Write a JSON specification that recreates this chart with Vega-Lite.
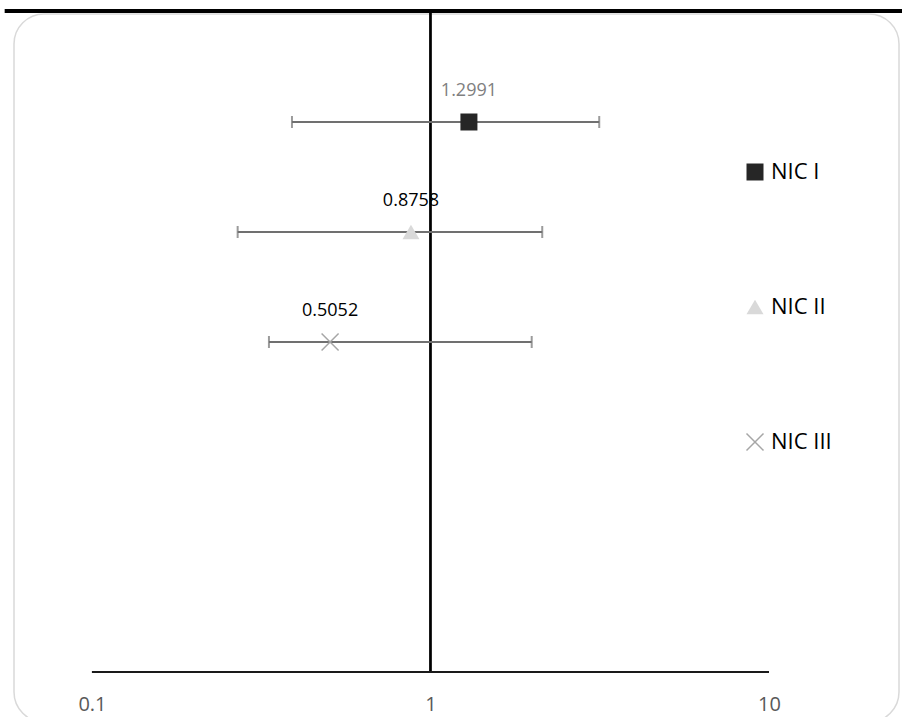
{
  "$schema": "https://vega.github.io/schema/vega-lite/v6.json",
  "width": 885,
  "height": 708,
  "autosize": {"type": "none"},
  "padding": {"left": 14, "top": 14, "right": 3, "bottom": 0},
  "background": "white",
  "config": {
    "view": {"stroke": "#d9d9d9", "strokeWidth": 1.5, "cornerRadius": 30},
    "font": "Open Sans"
  },
  "data": {
    "values": [
      {"series": "NIC I", "est": 1.2991, "lo": 0.3898, "hi": 3.152, "pos": 5, "label": "1.2991"},
      {"series": "NIC II", "est": 0.8758, "lo": 0.2694, "hi": 2.139, "pos": 4, "label": "0.8758"},
      {"series": "NIC III", "est": 0.5052, "lo": 0.3333, "hi": 1.991, "pos": 3, "label": "0.5052"}
    ]
  },
  "encoding": {
    "y": {
      "field": "pos", "type": "quantitative",
      "scale": {"domain": [-0.454545, 5.981818], "nice": false, "zero": false},
      "axis": null
    }
  },
  "layer": [
    {
      "mark": {"type": "rule", "color": "#000000", "strokeWidth": 4},
      "encoding": {
        "x": {"datum": 0.0553, "type": "quantitative"},
        "x2": {"datum": 30},
        "y": {"datum": 6.009, "type": "quantitative"}
      }
    },
    {
      "mark": {"type": "rule", "color": "#000000", "strokeWidth": 2},
      "encoding": {
        "x": {"datum": 1, "type": "quantitative"},
        "y": {"datum": 0, "type": "quantitative"},
        "y2": {"datum": 6.0}
      }
    },
    {
      "mark": {"type": "rule", "color": "#1a1a1a", "strokeWidth": 2},
      "encoding": {
        "x": {"datum": 0.1, "type": "quantitative"},
        "x2": {"datum": 10},
        "y": {"datum": 0, "type": "quantitative"}
      }
    },
    {
      "mark": {"type": "rule", "color": "#707070", "strokeWidth": 2},
      "encoding": {
        "x": {
          "field": "lo", "type": "quantitative",
          "scale": {"type": "log", "domain": [0.05884, 24.22], "nice": false, "zero": false},
          "axis": {
            "orient": "bottom", "offset": -50, "values": [0.1, 1, 10], "format": "~g",
            "domain": false, "ticks": false, "grid": false, "title": null,
            "labelFont": "Open Sans", "labelFontSize": 20, "labelColor": "#595959",
            "labelPadding": 22, "labelBaseline": "top", "labelFlush": false, "labelOverlap": false
          }
        },
        "x2": {"field": "hi"}
      }
    },
    {
      "mark": {"type": "tick", "orient": "vertical", "color": "#707070", "size": 12, "thickness": 2},
      "encoding": {"x": {"field": "lo", "type": "quantitative"}}
    },
    {
      "mark": {"type": "tick", "orient": "vertical", "color": "#707070", "size": 12, "thickness": 2},
      "encoding": {"x": {"field": "hi", "type": "quantitative"}}
    },
    {
      "mark": {"type": "point", "size": 289, "strokeWidth": 1.5, "opacity": 1},
      "encoding": {
        "x": {"field": "est", "type": "quantitative"},
        "shape": {
          "field": "series", "type": "nominal",
          "scale": {"domain": ["NIC I", "NIC II", "NIC III"], "range": ["square", "triangle-up", "M-1,-1L1,1M-1,1L1,-1"]},
          "legend": {
            "title": null, "orient": "none", "legendX": 730, "legendY": 147, "padding": 0,
            "symbolSize": 289, "symbolStrokeWidth": 1.5, "labelFont": "Open Sans", "labelFontSize": 22,
            "labelColor": "#000000", "rowPadding": 112, "labelOffset": 5, "direction": "vertical"
          }
        },
        "fill": {
          "field": "series", "type": "nominal",
          "scale": {"domain": ["NIC I", "NIC II", "NIC III"], "range": ["#262626", "#d9d9d9", "transparent"]}
        },
        "stroke": {
          "field": "series", "type": "nominal",
          "scale": {"domain": ["NIC I", "NIC II", "NIC III"], "range": ["transparent", "transparent", "#a6a6a6"]}
        }
      }
    },
    {
      "mark": {"type": "text", "dy": -31, "fontSize": 18, "font": "Open Sans", "baseline": "middle", "align": "center"},
      "encoding": {
        "x": {"field": "est", "type": "quantitative"},
        "text": {"field": "label"},
        "color": {"condition": {"test": "datum.series === 'NIC I'", "value": "#808080"}, "value": "#000000"}
      }
    }
  ]
}
